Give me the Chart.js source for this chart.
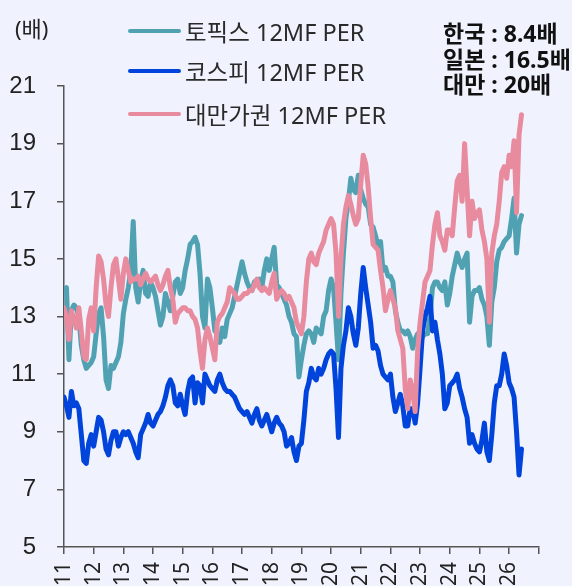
<!DOCTYPE html>
<html lang="ko">
<head>
  <meta charset="UTF-8">
  <title>12MF PER</title>
  <script src="https://cdn.jsdelivr.net/npm/chart.js"></script>
  <style>
    body {
      margin: 0;
      padding: 0;
      background-color: #f0f3fe;
      font-family: "Noto Sans", "Noto Sans CJK KR", sans-serif;
    }
    #wrap {
      position: relative;
      width: 572px;
      height: 586px;
      overflow: hidden;
      background-color: #f0f3fe;
    }
    #perChart {
      position: absolute;
      left: 0;
      top: 0;
    }
    #unit {
      position: absolute;
      left: 15px;
      top: 11px;
      font-size: 22px;
      color: #222;
    }
    .legend-row {
      position: absolute;
      left: 128px;
      height: 30px;
      display: flex;
      align-items: center;
      font-size: 23.5px;
      color: #2a2a2a;
      white-space: nowrap;
    }
    .legend-line {
      width: 53px;
      height: 4px;
      border-radius: 2px;
      margin-right: 4px;
    }
    #note {
      position: absolute;
      left: 443px;
      top: 21px;
      font-size: 23px;
      font-weight: bold;
      line-height: 25.5px;
      color: #111;
      white-space: nowrap;
    }
  </style>
</head>
<body>
  <div id="wrap">
    <canvas id="perChart" width="572" height="586"></canvas>
    <div id="unit">(배)</div>
    <div id="legend"></div>
    <div id="note"></div>
  </div>

  <script>
    // monthly points, first one = Jan 2011
    const startYear = 2011;
    const xTickLabels = ['2011', '2012', '2013', '2014', '2015', '2016', '2017', '2018',
                         '2019', '2020', '2021', '2022', '2023', '2024', '2025', '2026'];

    const seriesNames = ['토픽스 12MF PER', '코스피 12MF PER', '대만가권 12MF PER'];
    const seriesColors = ['#50a2b3', '#0044dc', '#e88b9e'];

    const topixPer = [
      13.9, 14.0, 11.5, 13.2, 13.4, 13.3, 13.0, 12.0, 11.5, 11.2, 11.3, 11.4,
      11.6, 12.4, 13.1, 13.3, 12.3, 10.8, 10.5, 11.3, 11.2, 11.4, 11.6, 12.1,
      13.1, 13.6, 14.0, 14.6, 16.3, 14.0, 13.5, 14.2, 14.6, 13.8, 13.7, 14.2,
      14.0, 13.7, 13.2, 12.7, 13.0, 13.8, 13.5, 13.2, 13.7, 14.2, 14.3, 13.8,
      14.0, 14.6, 15.0, 15.5, 15.6, 15.75, 15.5, 14.5, 13.0, 12.6, 14.3, 14.0,
      13.3, 12.5, 12.4, 12.1, 12.6, 12.3, 12.9, 13.1, 13.3, 13.7, 14.1, 14.5,
      14.9, 14.5, 14.2, 14.0, 13.9, 14.2, 14.1, 14.3, 14.0, 14.6, 15.0, 14.6,
      15.0, 15.4, 14.1, 14.0, 13.8, 13.6, 13.4, 13.0, 12.8, 12.4, 12.3, 10.9,
      11.5, 12.0, 12.4, 12.5, 12.4, 12.1, 12.6, 12.5, 12.4, 13.0, 13.2, 13.9,
      14.3, 14.0, 12.8, 11.5, 13.8, 15.2, 16.4, 17.0, 17.8, 17.4, 17.3, 17.9,
      17.4, 17.1, 16.9, 16.8, 16.2, 16.1, 15.8, 15.4, 15.6, 14.6, 14.7, 14.4,
      14.4, 14.2, 13.2, 12.8, 12.5, 12.5, 12.4, 12.5, 12.3, 11.9, 12.2, 12.4,
      12.1, 12.3, 12.4, 12.4, 13.0, 14.0, 14.2, 14.2, 14.0, 13.9, 14.2, 13.4,
      13.8, 14.4, 14.8, 15.2, 14.9, 14.7, 15.0, 15.2, 12.8, 13.7, 13.9, 13.9,
      14.0, 13.6, 13.4, 13.0, 12.0, 13.5, 14.0, 14.9, 15.3, 15.4, 15.6, 15.7,
      15.8, 16.4, 17.1, 15.2, 16.2, 16.5
    ];

    const kospiPer = [
      10.2, 9.9, 9.5, 10.4, 9.9, 10.0, 9.8, 8.9, 8.0, 7.9, 8.6, 8.9,
      8.5, 9.0, 9.5, 9.4, 9.0, 8.4, 8.2, 8.7, 9.0, 9.0, 8.5, 8.8,
      9.0, 8.9, 9.0, 8.8, 8.6, 8.3, 8.1, 8.9, 9.1, 9.3, 9.6, 9.3,
      9.2, 9.4, 9.6, 9.7, 9.9, 10.2, 10.6, 10.8, 10.6, 10.0, 9.9, 10.3,
      9.9, 9.6, 10.4, 10.8, 10.9, 10.0, 10.7, 10.6, 10.0, 11.0, 10.8, 10.6,
      10.5, 10.4, 10.8, 11.0, 10.7, 10.5, 10.4, 10.4, 10.3, 10.2, 10.0, 9.8,
      9.7, 9.6, 9.7, 9.5, 9.3, 9.6, 9.8, 9.4, 9.2, 9.4, 9.6, 9.3,
      9.0, 9.3, 9.5, 9.3, 9.2, 9.0, 8.5, 8.6, 8.8, 8.3, 8.0, 8.5,
      8.6, 9.4, 10.4, 10.7, 11.2, 10.9, 10.8, 11.2, 11.0, 11.2, 11.5, 11.7,
      11.8, 11.7, 10.5, 8.8, 11.2, 12.0, 12.5, 13.3, 13.0, 12.4, 12.0, 12.6,
      13.8, 14.7, 14.0, 13.4, 12.8, 11.9, 12.0, 11.8, 11.3, 11.0, 10.9, 10.8,
      11.0, 10.2, 9.7, 10.0, 10.3, 9.9, 9.2, 9.2, 9.8, 9.8, 9.3, 10.0,
      11.2, 12.5, 13.0, 13.3, 13.7, 12.5, 12.8, 12.2, 11.7, 11.0, 9.8, 10.0,
      10.6, 10.7, 10.8, 11.0, 10.5, 10.2, 9.8, 9.5, 8.6, 8.9, 8.6, 8.4,
      8.3, 8.7, 9.3, 8.3, 8.0, 8.9, 10.0, 10.6, 10.6, 11.0, 11.7, 11.3,
      10.7, 10.5, 10.2, 9.0, 7.5, 8.4
    ];

    const taiwanPer = [
      13.3, 13.0, 12.2, 13.2, 12.9, 12.6, 13.3, 12.5, 11.6, 11.5, 12.9, 13.3,
      12.5, 14.0, 15.1, 14.9, 14.3, 13.4, 13.0, 14.0, 14.8, 15.0, 14.3, 13.6,
      14.5, 15.0, 14.6, 14.2, 14.3, 14.3, 14.4, 14.1, 14.3, 14.5, 14.3, 14.2,
      14.3, 14.4, 14.1, 13.9, 14.1, 14.4, 14.6, 14.0, 13.6, 12.8, 13.1, 13.2,
      13.3, 13.3, 13.2, 13.2, 13.0, 12.9, 12.6, 11.8, 11.2, 12.2, 12.6, 12.3,
      11.9, 11.5, 12.8, 13.0, 13.1, 13.3, 13.5, 14.0, 13.9, 13.8, 13.6, 13.6,
      13.7, 13.8, 13.8, 13.9, 13.9, 14.1, 14.3, 14.0, 13.9, 14.0, 13.9, 13.8,
      14.2, 14.5, 13.6, 13.8, 13.9, 13.8, 13.6, 13.7, 13.5, 13.3, 12.8, 12.6,
      12.4, 13.0, 14.2, 15.0, 15.2, 14.9, 14.8, 15.2, 15.4, 15.6, 16.0, 16.2,
      16.4, 16.2, 15.2, 13.0, 15.0, 16.2, 16.8, 17.2, 16.9, 16.5, 16.2, 16.4,
      17.6, 18.6, 18.3, 17.5, 16.4, 15.5, 15.4, 15.3, 14.6, 14.0, 13.2, 13.6,
      13.9, 13.6, 13.3, 12.5, 12.2, 11.9, 10.5, 9.8, 10.8, 10.4, 9.7, 11.8,
      12.8, 13.5, 14.2, 14.4, 14.6, 15.5, 16.2, 16.6, 15.8, 15.6, 15.3, 16.0,
      16.0, 15.8, 16.8, 17.7, 17.9, 17.0, 19.0, 17.4, 15.8, 17.0, 16.4, 16.6,
      16.7, 16.0, 15.6, 15.0, 12.8, 15.2, 15.8, 16.2, 17.0, 18.0, 18.2, 17.8,
      18.6, 18.2, 19.1, 16.6, 19.3, 20.0
    ];

    const noteLines = ['한국 : 8.4배', '일본 : 16.5배', '대만 : 20배'];

    function toPoints(values) {
      return values.map((v, i) => ({ x: startYear + i / 12, y: v }));
    }

    // legend + note as html text
    const legendBox = document.getElementById('legend');
    const legendTops = [16, 56, 99];
    seriesNames.forEach((name, i) => {
      const row = document.createElement('div');
      row.className = 'legend-row';
      row.style.top = legendTops[i] + 'px';
      const line = document.createElement('div');
      line.className = 'legend-line';
      line.style.background = seriesColors[i];
      const label = document.createElement('span');
      label.textContent = name;
      row.appendChild(line);
      row.appendChild(label);
      legendBox.appendChild(row);
    });
    document.getElementById('note').innerHTML = noteLines.join('<br>');

    const axisColor = '#555';
    const yTickFont = { family: '"Liberation Sans", Arial, sans-serif', size: 24 };
    const xTickFont = { family: '"Noto Sans", sans-serif', size: 21 };

    const perChart = new Chart(document.getElementById('perChart'), {
      type: 'line',
      data: {
        datasets: [
          { label: seriesNames[0], data: toPoints(topixPer), borderColor: seriesColors[0], order: 3 },
          { label: seriesNames[1], data: toPoints(kospiPer), borderColor: seriesColors[1], order: 2 },
          { label: seriesNames[2], data: toPoints(taiwanPer), borderColor: seriesColors[2], order: 1 }
        ]
      },
      options: {
        responsive: false,
        animation: false,
        devicePixelRatio: 1,
        layout: { padding: { top: 86, right: 3, left: 0, bottom: 0 } },
        plugins: {
          legend: { display: false },
          tooltip: { enabled: false }
        },
        elements: {
          point: { radius: 0 },
          line: { borderWidth: 5, tension: 0, borderJoinStyle: 'round', borderCapStyle: 'round' }
        },
        scales: {
          x: {
            type: 'linear',
            min: 2011,
            max: 2027,
            afterFit: (scale) => { scale.height = 39; },
            grid: { drawOnChartArea: false, tickLength: 7, color: axisColor, lineWidth: 1.5 },
            border: { color: axisColor, width: 1.5 },
            ticks: {
              stepSize: 1,
              autoSkip: false,
              minRotation: 90,
              maxRotation: 90,
              padding: 8,
              color: '#222',
              font: xTickFont,
              callback: (v) => xTickLabels[v - startYear] || ''
            }
          },
          y: {
            min: 5,
            max: 21,
            afterFit: (scale) => { scale.width = 64; },
            grid: { drawOnChartArea: false, tickLength: 7, color: axisColor, lineWidth: 1.5 },
            border: { color: axisColor, width: 1.5 },
            ticks: { stepSize: 2, padding: 21, color: '#222', font: yTickFont }
          }
        }
      }
    });
  </script>
</body>
</html>
